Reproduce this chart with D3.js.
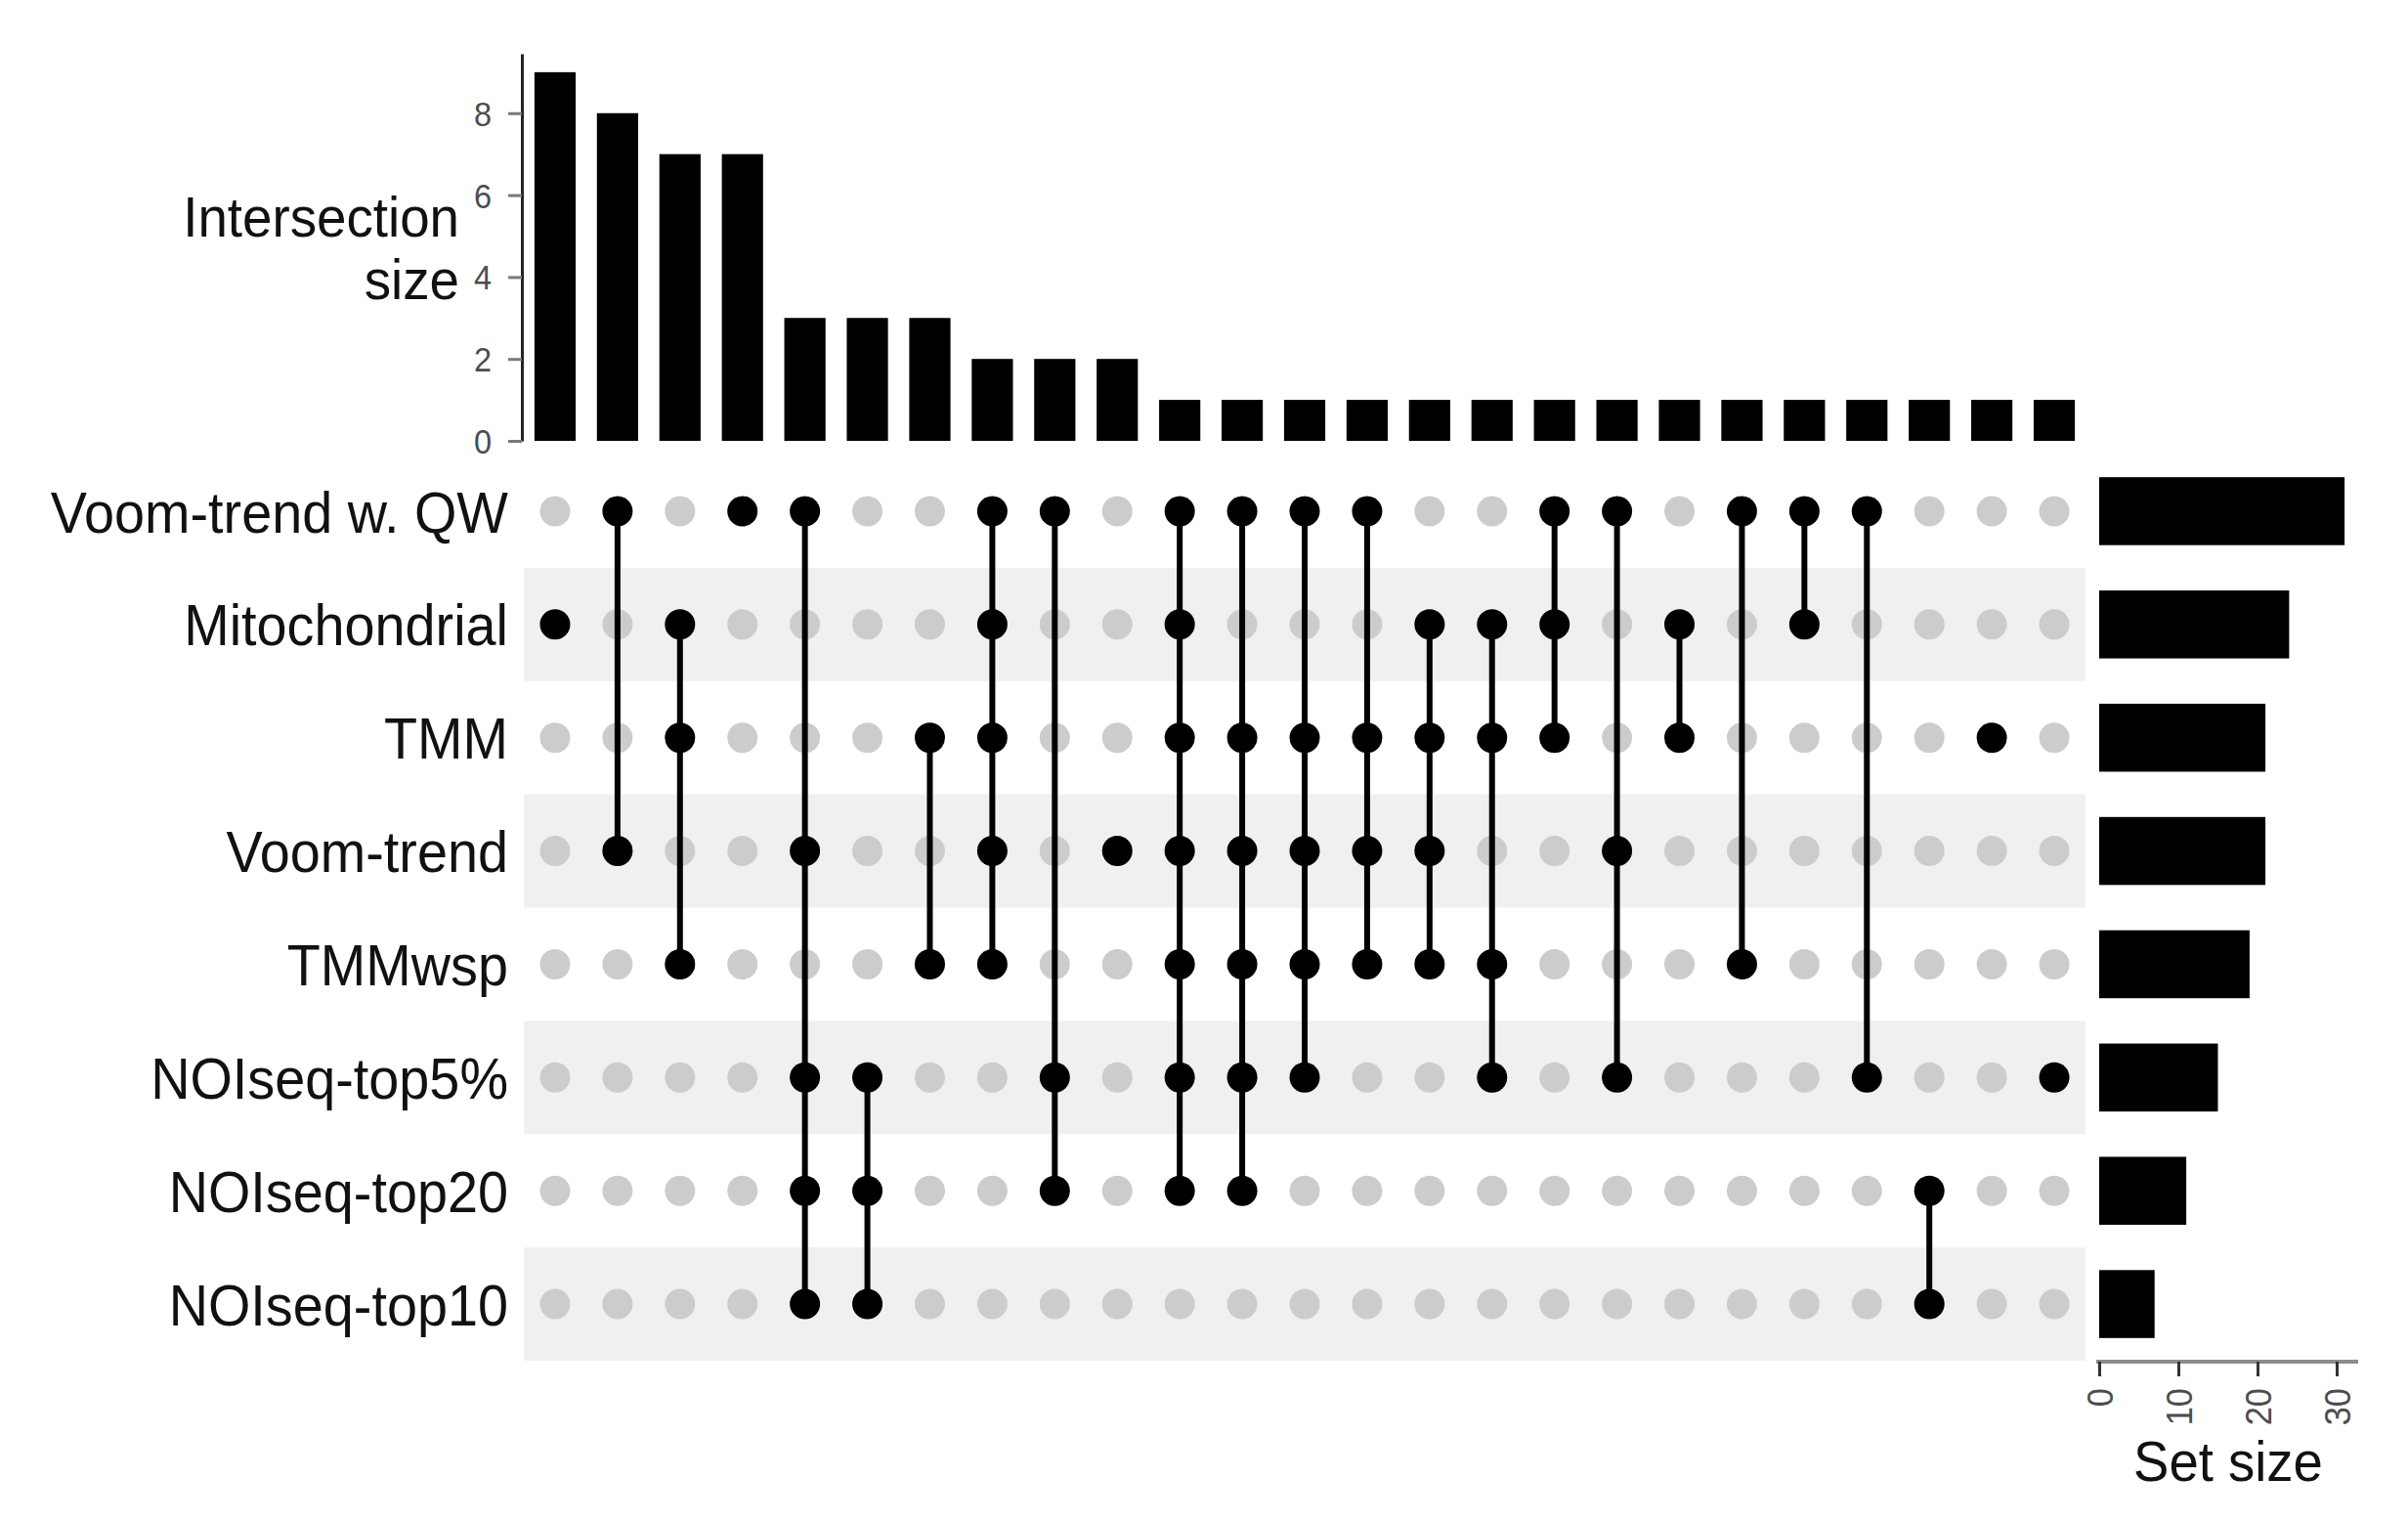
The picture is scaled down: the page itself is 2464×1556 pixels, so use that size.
<!DOCTYPE html>
<html>
<head>
<meta charset="utf-8">
<script src="https://cdn.jsdelivr.net/npm/d3@7"></script>
<style>
  html, body { margin: 0; padding: 0; background: #ffffff; }
  svg { display: block; font-family: "Liberation Sans", Arial, Helvetica, sans-serif; }
</style>
</head>
<body>
<svg id="chart" width="2464" height="1556"></svg>
<script>
// ---------------- DATA ----------------
const setNames = ["Voom-trend w. QW", "Mitochondrial", "TMM", "Voom-trend", "TMMwsp", "NOIseq-top5%", "NOIseq-top20", "NOIseq-top10"];
const setSizes = [31, 24, 21, 21, 19, 15, 11, 7];
const intersectionSizes = [9, 8, 7, 7, 3, 3, 3, 2, 2, 2, 1, 1, 1, 1, 1, 1, 1, 1, 1, 1, 1, 1, 1, 1, 1];
const intersectionMembers = [
  ["Mitochondrial"],
  ["Voom-trend w. QW", "Voom-trend"],
  ["Mitochondrial", "TMM", "TMMwsp"],
  ["Voom-trend w. QW"],
  ["Voom-trend w. QW", "Voom-trend", "NOIseq-top5%", "NOIseq-top20", "NOIseq-top10"],
  ["NOIseq-top5%", "NOIseq-top20", "NOIseq-top10"],
  ["TMM", "TMMwsp"],
  ["Voom-trend w. QW", "Mitochondrial", "TMM", "Voom-trend", "TMMwsp"],
  ["Voom-trend w. QW", "NOIseq-top5%", "NOIseq-top20"],
  ["Voom-trend"],
  ["Voom-trend w. QW", "Mitochondrial", "TMM", "Voom-trend", "TMMwsp", "NOIseq-top5%", "NOIseq-top20"],
  ["Voom-trend w. QW", "TMM", "Voom-trend", "TMMwsp", "NOIseq-top5%", "NOIseq-top20"],
  ["Voom-trend w. QW", "TMM", "Voom-trend", "TMMwsp", "NOIseq-top5%"],
  ["Voom-trend w. QW", "TMM", "Voom-trend", "TMMwsp"],
  ["Mitochondrial", "TMM", "Voom-trend", "TMMwsp"],
  ["Mitochondrial", "TMM", "TMMwsp", "NOIseq-top5%"],
  ["Voom-trend w. QW", "Mitochondrial", "TMM"],
  ["Voom-trend w. QW", "Voom-trend", "NOIseq-top5%"],
  ["Mitochondrial", "TMM"],
  ["Voom-trend w. QW", "TMMwsp"],
  ["Voom-trend w. QW", "Mitochondrial"],
  ["Voom-trend w. QW", "NOIseq-top5%"],
  ["NOIseq-top20", "NOIseq-top10"],
  ["TMM"],
  ["NOIseq-top5%"]
];
const intersectionTicks = [0, 2, 4, 6, 8];
const setSizeTicks = [0, 10, 20, 30];
const yTitleLines = ["Intersection", "size"];
const xTitle = "Set size";

// ---------------- LAYOUT ----------------
const svg = d3.select("#chart");
const SX = 0.93; // horizontal glyph compression seen in reference
const matLeft = 536, matRight = 2134, matTop = 465, matBottom = 1392;
const barTop = 55, barBottom = 451;

const cols = d3.range(intersectionSizes.length);
const x = d3.scaleBand().domain(cols).range([matLeft, matRight]).padding(0);
const yBar = d3.scaleLinear().domain([0, 9.45]).range([barBottom, barTop]);
const yRow = d3.scaleBand().domain(setNames).range([matTop, matBottom]).padding(0);
const xSet = d3.scaleLinear().domain([0, 30]).range([2148, 2391]);

// ---------------- TOP BAR CHART ----------------
const barW = x.bandwidth() * 0.66;
svg.append("g").selectAll("rect").data(intersectionSizes).join("rect")
  .attr("x", (d, i) => x(i) + (x.bandwidth() - barW) / 2)
  .attr("y", d => yBar(d))
  .attr("width", barW)
  .attr("height", d => yBar(0) - yBar(d))
  .attr("fill", "#000");

const yAxisG = svg.append("g")
  .attr("transform", `translate(${matLeft - 2},0)`)
  .call(d3.axisLeft(yBar).tickValues(intersectionTicks).tickSize(14).tickSizeOuter(0));
yAxisG.select(".domain").attr("stroke", "#222").attr("stroke-width", 3);
yAxisG.selectAll(".tick line").attr("stroke", "#7a7a7a").attr("stroke-width", 3);
yAxisG.selectAll(".tick text")
  .attr("x", null).attr("dy", "0.36em")
  .attr("transform", `translate(-31,0) scale(${SX},1)`)
  .attr("text-anchor", "end")
  .attr("fill", "#4d4d4d")
  .style("font-size", "35px")
  .style("font-family", "'Liberation Sans', Arial, sans-serif");

// two-line axis title, one text per line
svg.append("g").selectAll("text").data(yTitleLines).join("text")
  .attr("transform", (d, i) => `translate(470,${242 + i * 64}) scale(0.96,1)`)
  .attr("text-anchor", "end")
  .attr("fill", "#111")
  .style("font-size", "57px")
  .text(d => d);

// ---------------- MATRIX ----------------
svg.append("g").selectAll("rect").data(setNames.filter((d, i) => i % 2 === 1)).join("rect")
  .attr("x", matLeft).attr("width", matRight - matLeft)
  .attr("y", d => yRow(d)).attr("height", yRow.bandwidth())
  .attr("fill", "#f0f0f0");

const cells = [];
cols.forEach(c => setNames.forEach(s => cells.push({ c, s, on: intersectionMembers[c].includes(s) })));
const R = 15.5;

svg.append("g").selectAll("circle").data(cells.filter(d => !d.on)).join("circle")
  .attr("cx", d => x(d.c) + x.bandwidth() / 2)
  .attr("cy", d => yRow(d.s) + yRow.bandwidth() / 2)
  .attr("r", R).attr("fill", "#cccccc");

svg.append("g").selectAll("line").data(cols.filter(c => intersectionMembers[c].length > 1)).join("line")
  .attr("x1", c => x(c) + x.bandwidth() / 2)
  .attr("x2", c => x(c) + x.bandwidth() / 2)
  .attr("y1", c => d3.min(intersectionMembers[c], s => yRow(s)) + yRow.bandwidth() / 2)
  .attr("y2", c => d3.max(intersectionMembers[c], s => yRow(s)) + yRow.bandwidth() / 2)
  .attr("stroke", "#000").attr("stroke-width", 6);

svg.append("g").selectAll("circle").data(cells.filter(d => d.on)).join("circle")
  .attr("cx", d => x(d.c) + x.bandwidth() / 2)
  .attr("cy", d => yRow(d.s) + yRow.bandwidth() / 2)
  .attr("r", R).attr("fill", "#000");

// set labels
svg.append("g").selectAll("text").data(setNames).join("text")
  .attr("transform", d => `translate(520,${yRow(d) + yRow.bandwidth() / 2}) scale(${SX},1)`)
  .attr("dy", "0.36em")
  .attr("text-anchor", "end")
  .attr("fill", "#111")
  .style("font-size", "60px")
  .text(d => d);

// ---------------- SET SIZE BARS ----------------
const setBarH = yRow.bandwidth() * 0.6;
svg.append("g").selectAll("rect").data(setNames).join("rect")
  .attr("x", xSet(0))
  .attr("y", d => yRow(d) + (yRow.bandwidth() - setBarH) / 2)
  .attr("width", (d, i) => xSet(setSizes[i]) - xSet(0))
  .attr("height", setBarH)
  .attr("fill", "#000");

const xAxisG = svg.append("g")
  .attr("transform", `translate(0,1393)`)
  .call(d3.axisBottom(xSet).tickValues(setSizeTicks).tickSize(15).tickSizeOuter(0));
xAxisG.select(".domain").attr("stroke", "#8c8c8c").attr("stroke-width", 4)
  .attr("d", `M${xSet(0) - 3},0H2413`);
xAxisG.selectAll(".tick line").attr("stroke", "#333").attr("stroke-width", 3);
xAxisG.selectAll(".tick text")
  .attr("y", null).attr("dy", "0.36em")
  .attr("transform", `translate(0,27) rotate(-90) scale(${SX},1)`)
  .attr("text-anchor", "end")
  .attr("fill", "#4d4d4d")
  .style("font-size", "37px")
  .style("font-family", "'Liberation Sans', Arial, sans-serif");

svg.append("text")
  .attr("transform", `translate(2280,1515) scale(0.94,1)`)
  .attr("text-anchor", "middle")
  .attr("fill", "#111")
  .style("font-size", "58px")
  .text(xTitle);
</script>
</body>
</html>
